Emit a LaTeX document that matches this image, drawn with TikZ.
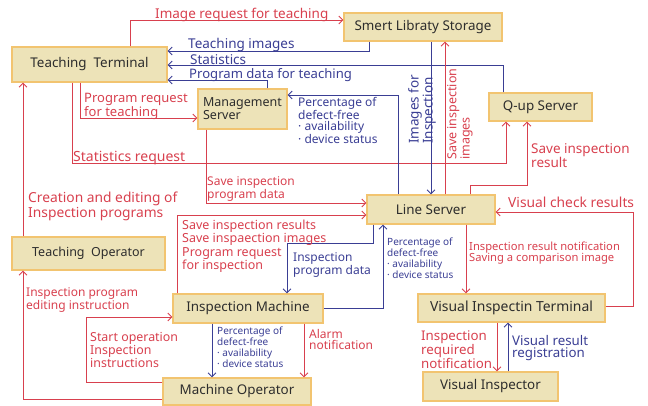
\documentclass[tikz,border=0pt]{standalone}
\usepackage{fontspec}
\setmainfont{Noto Sans}
\usetikzlibrary{arrows.meta}
\definecolor{flowred}{RGB}{216,64,78}
\definecolor{flowblue}{RGB}{58,62,148}
\definecolor{boxfill}{RGB}{237,227,184}
\definecolor{boxline}{RGB}{242,196,112}
\definecolor{boxtext}{RGB}{45,45,45}

\begin{document}
\begin{tikzpicture}[x=1pt, y=-1pt,
    unit/.style={draw=boxline, fill=boxfill, line width=1.2pt, text=boxtext, inner sep=0pt, font=\fontsize{13.4}{12}\selectfont, align=left},
    rarr/.style={draw=flowred, line width=0.9pt, -{Straight Barb[length=4pt, width=8pt]}},
    barr/.style={draw=flowblue, line width=0.9pt, -{Straight Barb[length=4pt, width=8pt]}},
    rlab/.style={text=flowred, inner sep=0pt, anchor=north west, align=left, font=\fontsize{13.5}{11.5}\selectfont},
    blab/.style={rlab, text=flowblue},
    mid/.style={font=\fontsize{12}{11}\selectfont},
    small/.style={font=\fontsize{10}{11}\selectfont},
  ]
  \useasboundingbox (0,0) rectangle (648,406);

  \node[unit, minimum width=155pt, minimum height=35pt] (tt) at (89.5,64.5) {Teaching\ \ Terminal};
  \node[unit, minimum width=158pt, minimum height=28pt] (lib) at (423,27) {Smert Libraty Storage};
  \node[unit, minimum width=89pt, minimum height=40pt, font=\fontsize{12.5}{12}\selectfont] (ms) at (242.5,109) {Management\\Server};
  \node[unit, minimum width=103pt, minimum height=28pt] (qup) at (540.5,107) {Q-up Server};
  \node[unit, minimum width=128pt, minimum height=29pt] (ls) at (431,209.5) {Line Server};
  \node[unit, minimum width=153pt, minimum height=33pt, font=\fontsize{12.5}{12}\selectfont] (to) at (88.5,253.5) {Teaching\ \ Operator};
  \node[unit, minimum width=150pt, minimum height=29pt] (im) at (248,308.5) {Inspection Machine};
  \node[unit, minimum width=148pt, minimum height=27pt] (mo) at (237,391.5) {Machine Operator};
  \node[unit, minimum width=187pt, minimum height=28pt, font=\fontsize{13.9}{12}\selectfont] (vit) at (511.5,308) {Visual Inspectin Terminal};
  \node[unit, minimum width=135pt, minimum height=29pt] (vi) at (490.5,386.5) {Visual Inspector};

  \draw[rarr] (130,0 |- tt.north) |- (lib.west |- 0,20);
  \draw[barr] (369,0 |- lib.south) |- (tt.east |- 0,51);
  \draw[barr] (503,0 |- qup.north) |- (tt.east |- 0,65);
  \draw[barr] (267,0 |- ms.north) |- (tt.east |- 0,80);
  \draw[rarr] (80,0 |- tt.south) |- (ms.west |- 0,118);
  \draw[rarr] (72,0 |- tt.south) -- (72,163) -| (506,0 |- qup.south);
  \draw[rarr] (470,0 |- ls.north) -- (470,185) -| (527,0 |- qup.south);
  \draw[barr] (431,0 |- lib.south) -- (431,0 |- ls.north);
  \draw[rarr] (445,0 |- ls.north) -- (445,0 |- lib.south);
  \draw[rarr] (206,0 |- ms.south) |- (ls.west |- 0,203);
  \draw[barr] (398,0 |- ls.north) |- (ms.east |- 0,95);
  \draw[rarr] (177,0 |- im.north) |- (ls.west |- 0,215);
  \draw[barr] (373,0 |- ls.south) -- (373,243) -| (287,0 |- im.north);
  \draw[barr] (im.east |- 0,308) -| (383,0 |- ls.south);
  \draw[rarr] (466,0 |- ls.south) -- (466,0 |- vit.north);
  \draw[rarr] (vit.east |- 0,306) -| (633,212) -- (ls.east |- 0,212);
  \draw[rarr] (23,0 |- to.north) -- (23,0 |- tt.south);
  \draw[rarr] (mo.west |- 0,399) -| (23,0 |- to.south);
  \draw[rarr] (mo.west |- 0,382) -| (86,317) -- (im.west |- 0,317);
  \draw[barr] (212,0 |- im.south) -- (212,0 |- mo.north);
  \draw[rarr] (304,0 |- im.south) -- (304,0 |- mo.north);
  \draw[rarr] (497,0 |- vit.south) -- (497,0 |- vi.north);
  \draw[barr] (508,0 |- vi.north) -- (508,0 |- vit.south);

  \node[rlab] (imgreq) at (155,8) {Image request for teaching};
  \node[blab] (teachimg) at (188,38) {Teaching images};
  \node[blab] (stats) at (190,54) {Statistics};
  \node[blab, font=\fontsize{13.1}{11}\selectfont] (progdata) at (189,68) {Program data for teaching};
  \node[rlab, font=\fontsize{13}{11}\selectfont] (progreq) at (84,93) {Program request\\for teaching};
  \node[rlab, font=\fontsize{14}{12}\selectfont] (statreq) at (73,151) {Statistics request};
  \node[rlab] (saveres) at (531,143) {Save inspection\\result};
  \node[blab, rotate=90] (imginsp) at (408,144) {Images for\\Inspection};
  \node[rlab, rotate=90, font=\fontsize{12.5}{11}\selectfont] (saveimg) at (447,160) {Save inspection\\images};
  \node[rlab, mid] (saveprog) at (207,176) {Save inspection\\program data};
  \node[blab, mid] (pctms) at (298,97) {Percentage of\\defect-free\\· availability\\· device status};
  \node[rlab, font=\fontsize{12.5}{13.3}\selectfont] (saveall) at (182,220) {Save inspection results\\Save inspaection images\\Program request\\for inspection};
  \node[blab, mid] (inspprog) at (293,252) {Inspection\\program data};
  \node[blab, small] (pctls) at (387,238) {Percentage of\\defect-free\\· availability\\· device status};
  \node[rlab, font=\fontsize{11.2}{11}\selectfont] (notify) at (469,242) {Inspection result notification\\Saving a comparison image};
  \node[rlab, font=\fontsize{13.8}{12}\selectfont] (vischeck) at (508,197) {Visual check results};
  \node[rlab, font=\fontsize{13.8}{12}\selectfont] (creation) at (28,192) {Creation and editing of\\Inspection programs};
  \node[rlab, mid] (editinst) at (26,287) {Inspection program\\editing instruction};
  \node[rlab, font=\fontsize{12.4}{11}\selectfont] (startop) at (90,332) {Start operation\\Inspection\\instructions};
  \node[blab, small] (pctmo) at (217,327) {Percentage of\\defect-free\\· availability\\· device status};
  \node[rlab, mid] (alarm) at (309,329) {Alarm\\notification};
  \node[rlab, font=\fontsize{13.3}{11}\selectfont] (inspreq) at (421,330) {Inspection\\required\\notification};
  \node[blab, font=\fontsize{13.3}{12}\selectfont] (visreg) at (512,335) {Visual result\\registration};
\end{tikzpicture}
\end{document}
